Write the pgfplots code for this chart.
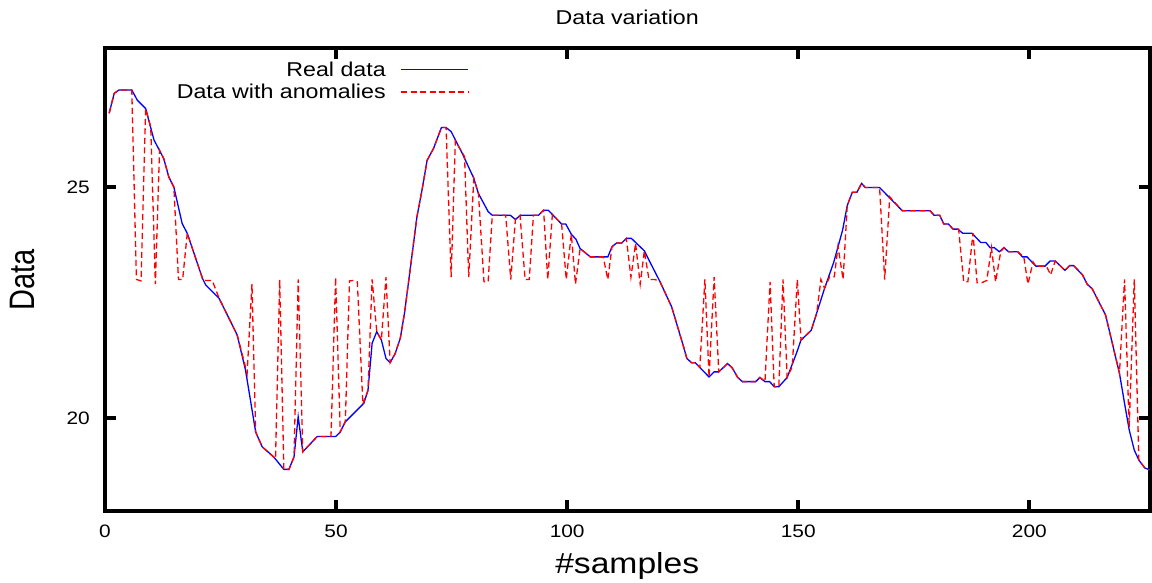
\documentclass[border=0pt]{standalone}
\usepackage{pgfplots}
\pgfplotsset{compat=1.18}
\usepackage{fontspec}
\setmainfont{Liberation Sans}
\usepackage{graphicx}
\newcommand\hs[1]{\scalebox{1.16}[1]{#1}}
\begin{document}
\begin{tikzpicture}
\begin{axis}[
  at={(0,0)}, anchor=south west,
  scale only axis, width=1044.5bp, height=462bp,
  xmin=0, xmax=226, ymin=18, ymax=28,
  xtick={0,50,100,150,200}, ytick={20,25},
  minor tick num=0,
  tick align=inside, major tick length=11bp,
  tick style={black, line width=4bp},
  axis line style={line width=4bp, black},
  /pgf/number format/assume math mode=true,
  xticklabel={\hs{\pgfmathprintnumber{\tick}}},
  yticklabel={\hs{\pgfmathprintnumber{\tick}}},
  ticklabel style={font=\fontsize{18bp}{20bp}\selectfont, inner sep=0pt},
  xticklabel style={anchor=north, yshift=-14.5bp},
  yticklabel style={anchor=east, xshift=-15bp},
  every axis title shift=0pt,
  title={\hs{Data variation}},
  title style={at={(axis description cs:0.5,1.0671)}, anchor=center, inner sep=0pt, font=\fontsize{20bp}{22bp}\selectfont},
  xlabel={\hs{\#samples}},
  xlabel style={at={(axis description cs:0.5,-0.1359)}, anchor=base, inner sep=0pt, font=\fontsize{29bp}{31bp}\selectfont},
  ylabel={\scalebox{1}[1.22]{Data}},
  ylabel style={at={(axis description cs:-0.079,0.5)}, anchor=center, inner sep=0pt, font=\fontsize{29bp}{31bp}\selectfont},
  legend style={at={(axis description cs:0.3485,0.9714)}, anchor=north east, draw=none, fill=none, inner sep=0pt, outer sep=0pt, row sep=6.4bp, column sep=15bp, font=\fontsize{20bp}{22bp}\selectfont, nodes={inner sep=0pt}},
  legend cell align=right,
  legend plot pos=right,
  legend image code/.code={\draw[#1] (0bp,0bp) -- (67bp,0bp);},
]
\addplot[blue, line width=1.3bp] coordinates {
(0.9,26.6) (2.0,27.03) (3.0,27.1) (5.8,27.1) (7.0,26.88) (8.8,26.7) (10.6,26.02) (12.7,25.62) (13.8,25.22) (14.9,25.0)
(16.7,24.21) (17.8,24.0) (21.1,23.02) (21.8,22.88) (24.7,22.59) (28.6,21.8) (30.4,21.04) (32.6,19.7) (34.0,19.38) (36.5,19.16)
(38.7,18.89) (39.8,18.89) (40.9,19.16) (41.8,20.03) (42.8,19.27) (45.9,19.6) (49.9,19.6) (50.9,19.7) (52.0,19.92) (56.0,20.32)
(56.9,20.6) (57.8,21.62) (58.8,21.87) (59.8,21.69) (60.8,21.29) (61.7,21.2) (62.8,21.4) (63.9,21.73) (64.8,22.27) (66.1,23.27)
(67.5,24.36) (68.6,24.94) (69.7,25.58) (71.1,25.84) (72.8,26.29) (73.8,26.29) (74.9,26.2) (77.3,25.73) (79.8,25.19) (80.8,24.86)
(82.9,24.47) (83.8,24.39) (87.7,24.39) (88.8,24.3) (89.9,24.39) (93.8,24.39) (94.9,24.5) (95.9,24.5) (98.8,24.2) (99.7,24.2)
(100.9,23.98) (101.9,23.87) (102.8,23.67) (105.0,23.49) (108.8,23.49) (109.7,23.71) (110.7,23.79) (111.8,23.79) (112.8,23.89) (113.9,23.89)
(116.7,23.62) (117.9,23.38) (120.1,22.95) (122.6,22.41) (125.2,21.54) (125.9,21.29) (126.9,21.2) (127.7,21.2) (130.7,20.89) (131.8,21.0)
(132.8,21.0) (134.7,21.18) (135.7,21.09) (136.9,20.88) (137.9,20.79) (140.8,20.79) (141.7,20.88) (142.8,20.79) (143.8,20.79) (144.8,20.68)
(145.8,20.68) (147.6,20.88) (149.6,21.4) (150.6,21.69) (152.8,21.9) (155.7,22.81) (157.7,23.38) (159.6,24.07) (160.6,24.6) (161.7,24.89)
(162.7,24.89) (163.7,25.08) (164.5,24.99) (167.6,24.99) (172.5,24.49) (178.5,24.49) (179.4,24.39) (180.6,24.39) (181.5,24.2) (182.5,24.2)
(183.5,24.09) (184.5,24.09) (185.6,24.0) (187.6,24.0) (189.5,23.8) (190.6,23.8) (191.5,23.69) (192.4,23.69) (193.5,23.6) (194.5,23.69)
(195.5,23.6) (197.5,23.6) (198.5,23.49) (199.5,23.49) (201.4,23.29) (203.4,23.29) (204.5,23.4) (205.6,23.4) (207.7,23.2) (208.7,23.3)
(209.6,23.3) (211.5,23.1) (212.5,22.9) (213.6,22.8) (216.5,22.23) (217.5,21.81) (219.5,20.97) (220.6,20.32) (221.6,19.75) (222.7,19.31)
(223.7,19.09) (225,18.92) (226,18.88)
};
\addlegendentry{\hs{Real data}}
\addplot[red, line width=1.3bp, dash pattern=on 6bp off 3.5bp] coordinates {
(0.9,26.6) (2.0,27.03) (3.0,27.1) (5.8,27.1) (6.8,23.0) (7.8,22.97) (8.8,26.7) (9.9,26.3) (10.9,22.9) (11.8,25.8)
(12.7,25.62) (13.8,25.22) (14.9,25.0) (15.9,23.0) (16.8,23.0) (17.8,24.0) (21.1,23.02) (21.8,22.98) (23.2,22.98) (24.7,22.59)
(28.6,21.8) (30.75,20.97) (31.8,22.9) (32.6,19.7) (34.0,19.38) (36.9,19.12) (37.8,23.0) (38.7,18.89) (39.8,18.89) (40.9,19.16)
(41.8,23.0) (42.8,19.27) (45.9,19.6) (48.9,19.6) (49.9,23.05) (50.9,19.7) (52.0,19.92) (52.9,22.97) (53.8,22.98) (54.6,22.95)
(55.8,20.3) (56.9,20.6) (57.8,23.0) (58.8,21.87) (59.8,21.69) (60.8,23.05) (61.7,21.2) (62.8,21.4) (63.9,21.73) (64.8,22.27)
(66.1,23.27) (67.5,24.36) (68.6,24.94) (69.7,25.58) (71.1,25.84) (72.8,26.29) (73.8,26.29) (74.9,23.05) (75.8,26.0) (77.8,25.66)
(78.7,23.05) (79.8,25.19) (80.8,24.86) (82.0,22.95) (82.9,22.95) (83.8,24.39) (86.7,24.39) (87.8,23.0) (88.8,24.3) (89.8,24.39)
(90.9,23.0) (91.8,23.0) (92.7,24.39) (93.8,24.39) (94.9,24.5) (95.8,23.0) (96.8,24.41) (98.8,24.2) (99.8,23.0) (100.9,23.98)
(101.8,22.9) (102.8,23.67) (105.0,23.49) (107.8,23.49) (108.8,23.0) (109.7,23.71) (110.7,23.79) (111.8,23.79) (112.8,23.89) (113.8,23.05)
(114.8,23.78) (115.8,22.9) (116.7,23.62) (117.7,23.0) (119.0,23.0) (120.1,22.95) (122.6,22.41) (125.2,21.54) (125.9,21.29) (126.9,21.2)
(127.7,21.2) (128.7,21.1) (129.8,23.0) (130.7,20.89) (131.8,23.05) (132.8,21.0) (134.7,21.18) (135.7,21.09) (136.9,20.88) (137.9,20.79)
(140.8,20.79) (141.7,20.88) (142.8,20.79) (143.9,22.95) (144.8,20.68) (145.8,20.68) (146.7,23.0) (147.6,20.88) (148.7,21.11) (149.8,23.0)
(150.6,21.69) (152.8,21.9) (154.0,22.27) (154.9,23.0) (155.7,22.81) (156.8,23.06) (157.8,23.06) (158.6,23.72) (159.7,23.0) (160.6,24.6)
(161.7,24.89) (162.7,24.89) (163.7,25.08) (164.5,24.99) (167.6,24.99) (168.7,23.0) (169.8,24.79) (172.5,24.49) (178.5,24.49) (179.4,24.39)
(180.6,24.39) (181.5,24.2) (182.5,24.2) (183.5,24.09) (184.7,24.09) (185.8,22.95) (186.7,22.95) (187.8,24.0) (188.7,22.93) (189.7,22.93)
(190.8,22.98) (191.8,23.69) (192.7,22.95) (193.8,23.6) (194.5,23.69) (195.5,23.6) (197.5,23.6) (198.8,23.49) (199.7,22.9) (200.8,23.38)
(201.4,23.29) (203.7,23.29) (204.6,23.1) (205.6,23.4) (207.7,23.2) (208.7,23.3) (209.6,23.3) (211.5,23.1) (212.5,22.9) (213.6,22.8)
(216.5,22.23) (217.5,21.81) (219.5,20.97) (220.6,23.0) (221.6,19.8) (222.7,23.0) (223.7,19.09) (225,18.92) (226,18.88)
};
\addlegendentry{\hs{Data with anomalies}}
\end{axis}
\pgfresetboundingbox
\path[use as bounding box] (-105bp,-72.5bp) rectangle (1047bp,510.5bp);
\end{tikzpicture}
\end{document}
